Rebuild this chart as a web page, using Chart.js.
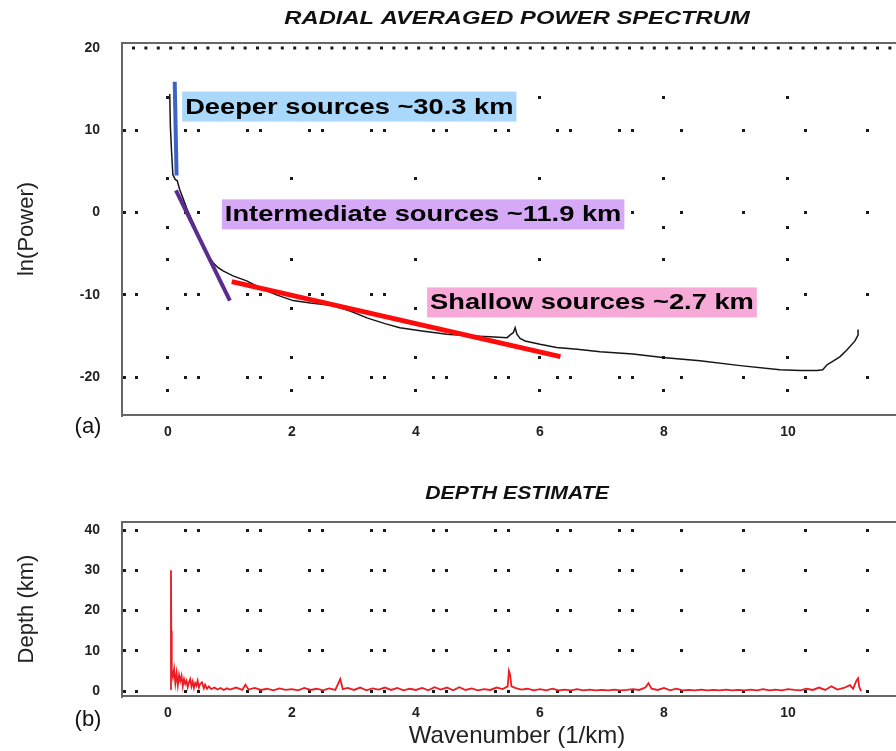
<!DOCTYPE html>
<html>
<head>
<meta charset="utf-8">
<script src="https://cdn.jsdelivr.net/npm/chart.js@4.4.1/dist/chart.umd.min.js"></script>
<style>
  html, body { margin: 0; padding: 0; background: #fff; overflow: hidden; }
  #wrap { position: relative; width: 896px; height: 751px; overflow: hidden; }
  canvas { position: absolute; left: 0; }
  #power { top: 0; }
  #depth { top: 460px; }
</style>
</head>
<body>
<div id="wrap">
  <canvas id="power" width="912" height="460"></canvas>
  <canvas id="depth" width="912" height="291"></canvas>
</div>
<script>
// (a) radial averaged power spectrum + (b) depth estimate

// ─── DATA ─────────────────────────────────────────────
const kTicks = [0, 2, 4, 6, 8, 10];
const powerTicks = [-20, -10, 0, 10, 20];
const depthTicks = [0, 10, 20, 30, 40];

// wavenumber (1/km) vs ln(power)
const spectrumK = [0.03, 0.04, 0.06, 0.08, 0.12, 0.15, 0.19, 0.25, 0.31, 0.38, 0.44, 0.50, 0.56, 0.64, 0.73,
  0.81, 0.89, 0.97, 1.05, 1.16, 1.27, 1.40, 1.56, 1.75, 2.02, 2.30, 2.66, 2.95, 3.21, 3.50, 3.74, 4.10,
  4.50, 4.90, 5.20, 5.47, 5.53, 5.57, 5.60, 5.63, 5.68, 5.76, 6.00, 6.27, 6.60, 6.97, 7.50, 7.98, 8.58,
  9.23, 9.87, 10.20, 10.47, 10.56, 10.63, 10.74, 10.84, 10.95, 11.08, 11.13, 11.13];
const spectrumLnP = [14.4, 10.5, 7.3, 4.6, 4.0, 3.9, 2.8, 1.6, 0.4, -0.8, -1.8, -2.9, -4.0, -5.1, -6.1,
  -6.7, -7.1, -7.4, -7.7, -8.0, -8.3, -8.8, -9.4, -10.0, -10.7, -11.0, -11.3, -12.0, -12.8, -13.5, -14.0, -14.4,
  -14.8, -15.0, -15.1, -15.2, -14.8, -14.6, -14.0, -14.8, -15.3, -15.6, -16.0, -16.4, -16.6, -16.9, -17.2, -17.6, -18.0,
  -18.6, -19.1, -19.2, -19.2, -19.1, -18.5, -18.0, -17.5, -16.7, -15.6, -14.9, -14.2];

// straight-line fits for the three source depths
const deepFitK = [0.11, 0.14];
const deepFitLnP = [15.9, 4.5];
const midFitK = [0.13, 1.0];
const midFitLnP = [2.7, -10.7];
const shallowFitK = [1.03, 6.33];
const shallowFitLnP = [-8.4, -17.5];

const sourceLabels = ['Deeper sources ~30.3 km', 'Intermediate sources ~11.9 km', 'Shallow sources ~2.7 km'];

// depth estimate (km)
const depthK = [0.04, 0.05, 0.055, 0.06, 0.065, 0.08, 0.10, 0.12, 0.14, 0.16, 0.18, 0.20, 0.22, 0.24, 0.26,
  0.28, 0.30, 0.32, 0.34, 0.36, 0.38, 0.40, 0.42, 0.44, 0.46, 0.48, 0.50, 0.52, 0.55, 0.58, 0.60, 0.63,
  0.66, 0.70, 0.75, 0.80, 0.85, 0.90, 0.95, 1.00, 1.10, 1.20, 1.25, 1.30, 1.40, 1.50, 1.60, 1.70, 1.80,
  1.90, 2.00, 2.10, 2.20, 2.30, 2.40, 2.50, 2.60, 2.70, 2.78, 2.82, 2.90, 3.00, 3.10, 3.20, 3.30, 3.40,
  3.50, 3.60, 3.70, 3.80, 3.90, 4.00, 4.10, 4.20, 4.30, 4.40, 4.50, 4.60, 4.70, 4.80, 4.90, 5.00, 5.10,
  5.20, 5.30, 5.40, 5.48, 5.50, 5.52, 5.54, 5.60, 5.70, 5.80, 5.90, 6.00, 6.10, 6.20, 6.30, 6.40, 6.50,
  6.60, 6.70, 6.80, 6.90, 7.00, 7.10, 7.20, 7.30, 7.40, 7.50, 7.60, 7.70, 7.75, 7.80, 7.90, 8.00, 8.10,
  8.20, 8.30, 8.40, 8.50, 8.60, 8.70, 8.80, 8.90, 9.00, 9.10, 9.20, 9.30, 9.40, 9.50, 9.60, 9.70, 9.80,
  9.90, 10.00, 10.10, 10.20, 10.30, 10.40, 10.50, 10.60, 10.70, 10.80, 10.90, 11.00, 11.05, 11.10, 11.13,
  11.15, 11.18];
const depthKm = [0.5, 30, 15, 14, 5, 3.5, 5.5, 2.0, 4.5, 1.5, 4.0, 2.5, 3.8, 1.2, 3.0,
  1.8, 2.6, 1.0, 2.2, 3.0, 1.2, 2.4, 0.8, 2.0, 1.4, 2.6, 0.9, 1.8, 2.2, 0.7, 1.6, 0.6,
  1.2, 0.5, 0.9, 0.4, 0.8, 0.3, 0.7, 0.4, 0.9, 0.3, 1.6, 0.4, 0.8, 0.3, 0.6, 0.2, 0.7,
  0.3, 0.5, 0.2, 0.8, 0.3, 0.6, 0.2, 0.7, 0.3, 3.0, 0.5, 0.8, 0.3, 0.9, 0.2, 0.7, 0.4,
  0.9, 0.3, 0.8, 0.2, 0.6, 0.3, 0.8, 0.2, 1.0, 0.4, 0.9, 0.2, 1.0, 0.3, 0.7, 0.2, 0.5,
  0.3, 0.9, 0.5, 1.2, 5.0, 4.0, 1.2, 0.8, 0.4, 0.6, 0.2, 0.5, 0.2, 0.6, 0.2, 0.4, 0.2,
  0.5, 0.2, 0.4, 0.2, 0.3, 0.2, 0.4, 0.2, 0.3, 0.5, 0.3, 0.9, 2.0, 0.6, 0.3, 0.8, 0.2,
  0.6, 0.2, 0.3, 0.2, 0.4, 0.2, 0.3, 0.2, 0.4, 0.2, 0.3, 0.2, 0.4, 0.2, 0.5, 0.2, 0.4,
  0.2, 0.5, 0.3, 0.2, 0.6, 0.3, 0.9, 0.3, 1.2, 0.4, 0.8, 1.5, 0.6, 2.5, 3.2,
  1.0, 0];

// ─── HELPERS ──────────────────────────────────────────
const FONT = '"Liberation Sans", Arial, sans-serif';
const pts = (xs, ys) => xs.map((x, i) => ({ x, y: ys[i] }));

// dot rows of the scanned grid (pairs, then singles to the right)
const rowDash = [3, 9, 3, 46,
  3, 10, 3, 46, 3, 10, 3, 46, 3, 10, 3, 46, 3, 10, 3, 46,
  3, 10, 3, 46, 3, 10, 3, 46, 3, 10, 3, 46, 3, 10, 3, 46,
  3, 59, 3, 59, 3, 59, 3, 59, 3, 200];
const colDash = [3, 78, 3, 46, 3, 29, 3, 46, 3, 46, 3, 30, 3, 97];

// draws title, top frame, labels and panel tag (text stretched like the scan)
const panelText = {
  id: 'panelText',
  afterDraw(chart, args, o) {
    const { ctx, chartArea: a, scales } = chart;
    ctx.save();

    ctx.strokeStyle = '#666';
    ctx.lineWidth = 2;
    ctx.beginPath();
    ctx.moveTo(a.left, a.top);
    ctx.lineTo(a.right, a.top);
    ctx.stroke();

    if (o.denseRow !== undefined) {
      const y = scales.y.getPixelForValue(o.denseRow);
      ctx.setLineDash([3, 9.4]);
      ctx.lineWidth = 3;
      ctx.strokeStyle = '#1a1a1a';
      ctx.beginPath();
      ctx.moveTo(a.left + 10, y);
      ctx.lineTo(a.right, y);
      ctx.stroke();
      ctx.setLineDash([]);
    }

    // title
    ctx.fillStyle = '#111';
    ctx.font = `italic bold ${o.titleSize}px ${FONT}`;
    ctx.textAlign = 'center';
    ctx.textBaseline = 'middle';
    ctx.save();
    ctx.translate((a.left + a.right) / 2, o.titleY);
    ctx.scale(o.titleStretch, 1);
    ctx.fillText(o.title, 0, 0);
    ctx.restore();

    // source labels with coloured boxes
    (o.labels || []).forEach(l => {
      const x = scales.x.getPixelForValue(l.at[0]);
      const y = scales.y.getPixelForValue(l.at[1]);
      ctx.font = `bold 22px ${FONT}`;
      const w = ctx.measureText(l.text).width * 1.24 + 6;
      ctx.fillStyle = l.color;
      ctx.fillRect(x, y, w, 30);
      ctx.fillStyle = '#000';
      ctx.textAlign = 'left';
      ctx.save();
      ctx.translate(x + 3, y + 16);
      ctx.scale(1.24, 1);
      ctx.fillText(l.text, 0, 0);
      ctx.restore();
    });

    // (a) / (b)
    ctx.fillStyle = '#111';
    ctx.font = `22px ${FONT}`;
    ctx.textAlign = 'center';
    ctx.fillText(o.tag, o.tagAt[0], o.tagAt[1]);
    ctx.restore();
  }
};

function yScale(min, max, ticks, title) {
  return {
    type: 'linear', min, max,
    afterBuildTicks: s => { s.ticks = ticks.map(v => ({ value: v })); },
    afterFit: s => { s.width = 122; },
    ticks: { padding: 22, color: '#222', font: { family: FONT, size: 14, weight: 'bold' } },
    grid: {
      drawTicks: false, lineWidth: 3,
      color: c => (c.tick && c.tick.value === 20 && max < 30) ? 'rgba(0,0,0,0)' : '#1a1a1a'
    },
    border: { display: true, color: '#666', width: 2, dash: rowDash, dashOffset: 0 },
    title: { display: true, text: title, color: '#222', font: { family: FONT, size: 22 }, padding: { top: 14, bottom: 0 } }
  };
}

function xScale(height, withTitle, withGrid) {
  return {
    type: 'linear', min: -0.74, max: 12.0,
    afterBuildTicks: s => { s.ticks = kTicks.map(v => ({ value: v })); },
    afterFit: s => { s.height = height; },
    ticks: { padding: 9, maxRotation: 0, color: '#222', font: { family: FONT, size: 14, weight: 'bold' } },
    grid: { display: withGrid, drawTicks: false, lineWidth: 3, color: '#1a1a1a' },
    border: { display: true, color: '#666', width: 2, dash: colDash, dashOffset: 340 },
    title: { display: withTitle, text: 'Wavenumber (1/km)', color: '#222', font: { family: FONT, size: 24 }, padding: { top: 0, bottom: 0 } }
  };
}

// ─── (a) POWER SPECTRUM ───────────────────────────────
new Chart(document.getElementById('power'), {
  type: 'line',
  data: {
    datasets: [
      { label: 'deep fit', data: pts(deepFitK, deepFitLnP), borderColor: '#3d63c6', borderWidth: 4 },
      { label: 'intermediate fit', data: pts(midFitK, midFitLnP), borderColor: '#5a2c8f', borderWidth: 4 },
      { label: 'shallow fit', data: pts(shallowFitK, shallowFitLnP), borderColor: '#ff0b0b', borderWidth: 5 },
      { label: 'spectrum', data: pts(spectrumK, spectrumLnP), borderColor: '#151515', borderWidth: 1.5 }
    ]
  },
  options: {
    responsive: false, animation: false, devicePixelRatio: 1,
    layout: { padding: { top: 43, left: 0, right: 0, bottom: 0 } },
    elements: { point: { radius: 0 }, line: { tension: 0 } },
    scales: {
      x: xScale(45, false, true),
      y: yScale(-24.6, 20.6, powerTicks, 'ln(Power)')
    },
    plugins: {
      legend: { display: false },
      tooltip: { enabled: false },
      panelText: {
        title: 'RADIAL AVERAGED POWER SPECTRUM', titleSize: 19, titleStretch: 1.25, titleY: 19,
        denseRow: 20,
        tag: '(a)', tagAt: [88, 427],
        labels: [
          { text: sourceLabels[0], at: [0.23, 14.7], color: '#a9d8fa' },
          { text: sourceLabels[1], at: [0.87, 1.6], color: '#d6a9f7' },
          { text: sourceLabels[2], at: [4.18, -9.1], color: '#f7a9d7' }
        ]
      }
    }
  },
  plugins: [panelText]
});

// ─── (b) DEPTH ESTIMATE ───────────────────────────────
new Chart(document.getElementById('depth'), {
  type: 'line',
  data: {
    datasets: [
      { label: 'depth', data: pts(depthK, depthKm), borderColor: '#ea1c24', borderWidth: 1.8 }
    ]
  },
  options: {
    responsive: false, animation: false, devicePixelRatio: 1,
    layout: { padding: { top: 62, left: 0, right: 0, bottom: 0 } },
    elements: { point: { radius: 0 }, line: { tension: 0 } },
    scales: {
      x: xScale(55, true, false),
      y: yScale(-1.2, 42, depthTicks, 'Depth (km)')
    },
    plugins: {
      legend: { display: false },
      tooltip: { enabled: false },
      panelText: {
        title: 'DEPTH ESTIMATE', titleSize: 18, titleStretch: 1.18, titleY: 34,
        tag: '(b)', tagAt: [88, 260]
      }
    }
  },
  plugins: [panelText]
});
</script>
</body>
</html>
